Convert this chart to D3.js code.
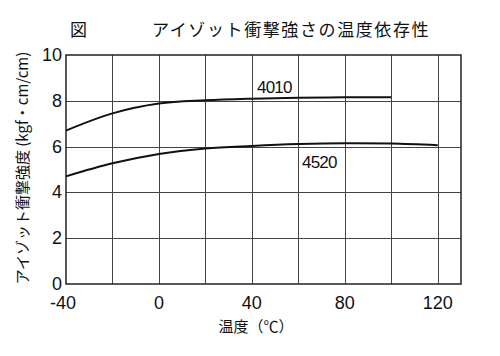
<!DOCTYPE html>
<html>
<head>
<meta charset="utf-8">
<style>
  body{margin:0;background:#fff}
  .chart text{fill:#111;font-family:"Liberation Sans",Arial,sans-serif}
  .chart .jp{font-family:"Noto Sans CJK JP",sans-serif}
  .chart .grid line{stroke:#444;stroke-width:1px;shape-rendering:crispEdges}
  .chart .curve{stroke:#111;stroke-width:2px;fill:none}
</style>
</head>
<body>
<div id="chart"></div>
<script src="https://d3js.org/d3.v7.min.js"></script>
<script>
// temperature (°C) vs Izod impact strength (kgf·cm/cm)
var temps4010  = [-40, -20, 0, 20, 40, 60, 80, 100];
var vals4010   = [6.7, 7.45, 7.88, 8.02, 8.09, 8.13, 8.15, 8.15];
var temps4520  = [-40, -20, 0, 20, 40, 60, 80, 100, 120];
var vals4520   = [4.7, 5.27, 5.68, 5.92, 6.03, 6.11, 6.15, 6.13, 6.06];
var xGridTicks = [-20, 0, 20, 40, 60, 80, 100, 120];
var xLabels    = [-40, 0, 40, 80, 120];
var yTicks     = [0, 2, 4, 6, 8, 10];

(function () {
  var width = 500, height = 356;

  var x = d3.scaleLinear().domain([-40, 130]).range([66, 461]);
  var y = d3.scaleLinear().domain([0, 10]).range([284, 55]);

  var svg = d3.select('#chart').append('svg')
    .attr('class', 'chart')
    .attr('width', width)
    .attr('height', height);

  // title
  svg.append('text').attr('class', 'jp')
    .attr('x', 70).attr('y', 36)
    .style('font-size', '17px')
    .text('図');
  svg.append('text').attr('class', 'jp')
    .attr('x', 152).attr('y', 36)
    .style('font-size', '17px')
    .style('letter-spacing', '1.6px')
    .text('アイゾット衝撃強さの温度依存性');

  // grid
  var grid = svg.append('g').attr('class', 'grid');
  grid.selectAll('.vx').data(xGridTicks).enter().append('line')
    .attr('x1', function (d) { return Math.round(x(d)) + 0.5; })
    .attr('x2', function (d) { return Math.round(x(d)) + 0.5; })
    .attr('y1', y(0)).attr('y2', y(10));
  grid.selectAll('.hy').data(yTicks.slice(1, -1)).enter().append('line')
    .attr('x1', x(-40)).attr('x2', x(130))
    .attr('y1', function (d) { return Math.round(y(d)) + 0.5; })
    .attr('y2', function (d) { return Math.round(y(d)) + 0.5; });

  // frame
  svg.append('rect')
    .attr('x', x(-40)).attr('y', y(10))
    .attr('width', x(130) - x(-40)).attr('height', y(0) - y(10))
    .style('fill', 'none').style('stroke', '#222').style('stroke-width', '1.5px');

  // axes labels
  svg.selectAll('.yl').data(yTicks).enter().append('text')
    .attr('x', 62).attr('y', function (d) { return y(d) + 6; })
    .attr('text-anchor', 'end')
    .style('font-size', '18px')
    .text(function (d) { return d; });

  svg.selectAll('.xl').data(xLabels).enter().append('text')
    .attr('x', function (d) { return x(d) - (d < 0 ? 3 : 0); })
    .attr('y', 309)
    .attr('text-anchor', 'middle')
    .style('font-size', '18px')
    .text(function (d) { return d; });

  svg.append('text').attr('class', 'jp')
    .attr('x', 256).attr('y', 332)
    .attr('text-anchor', 'middle')
    .style('font-size', '15px')
    .text('温度（℃）');

  svg.append('text').attr('class', 'jp')
    .attr('transform', 'translate(28,168) rotate(-90)')
    .attr('text-anchor', 'middle')
    .style('font-size', '15px')
    .text('アイゾット衝撃強度 (kgf・cm/cm)');

  // curves
  var line = d3.line()
    .x(function (d) { return x(d[0]); })
    .y(function (d) { return y(d[1]); })
    .curve(d3.curveCatmullRom.alpha(0.5));

  svg.append('path').attr('class', 'curve')
    .attr('d', line(d3.zip(temps4010, vals4010)));
  svg.append('path').attr('class', 'curve')
    .attr('d', line(d3.zip(temps4520, vals4520)));

  svg.append('text')
    .attr('x', 257).attr('y', 93)
    .style('font-size', '17px').style('letter-spacing', '-0.8px')
    .text('4010');
  svg.append('text')
    .attr('x', 302).attr('y', 168)
    .style('font-size', '17px').style('letter-spacing', '-0.8px')
    .text('4520');
})();
</script>
</body>
</html>
